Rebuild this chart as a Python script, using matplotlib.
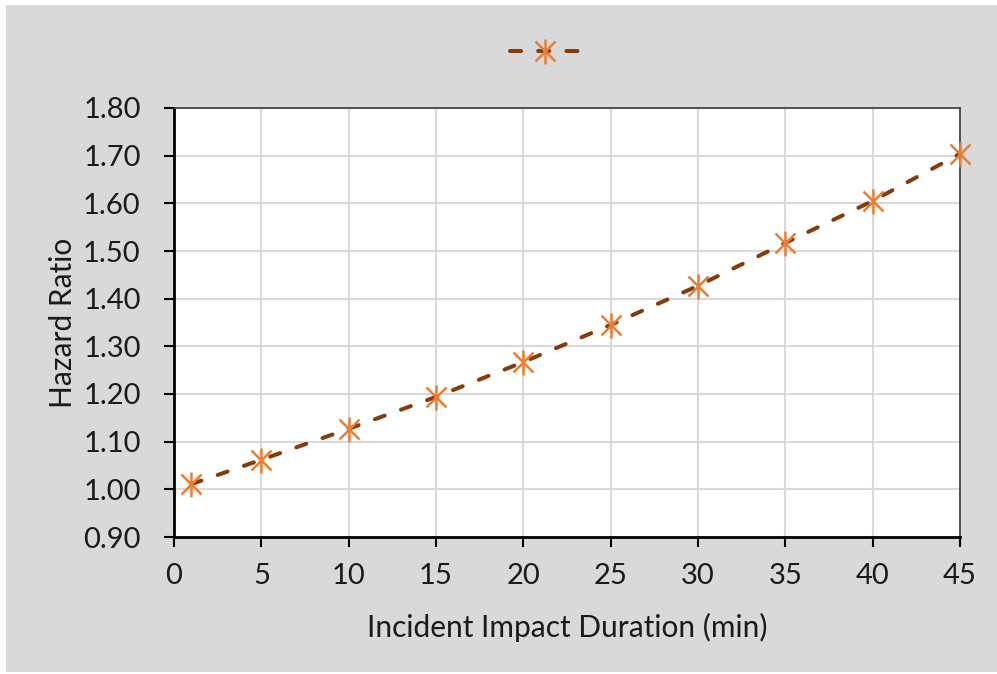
import matplotlib
matplotlib.use("Agg")
import matplotlib.pyplot as plt
from matplotlib.patches import Rectangle
from matplotlib.lines import Line2D

x_vals = [1, 5, 10, 15, 20, 25, 30, 35, 40, 45]
hazard = [1.011, 1.062, 1.127, 1.194, 1.267, 1.345, 1.427, 1.517, 1.605, 1.704]
x_ticks = [0, 5, 10, 15, 20, 25, 30, 35, 40, 45]
y_ticks = [0.90, 1.00, 1.10, 1.20, 1.30, 1.40, 1.50, 1.60, 1.70, 1.80]
x_label = "Incident Impact Duration (min)"
y_label = "Hazard Ratio"

plt.rcParams['font.family'] = ['Lato', 'DejaVu Sans']

W, H = 997, 674
fig = plt.figure(figsize=(W/100, H/100), dpi=100, facecolor='white')
fig.patches.append(Rectangle((6/W, 2/H), 1 - 6/W, 1 - 7/H, transform=fig.transFigure,
                             facecolor='#d9d9d9', edgecolor='none', zorder=-10))

ax = fig.add_axes([174/W, 1 - 537/H, (960-174)/W, (537-108)/H])
ax.set_facecolor('white')

line_col = '#843c0c'
mk_col = '#ed7d31'
dash = (2.6, 4.3)
ax.plot(x_vals, hazard, color=line_col, lw=2.9, dashes=dash, dash_capstyle='round', zorder=3, clip_on=False)
ax.plot(x_vals, hazard, ls='none', marker='x', ms=15, mew=1.8, color=mk_col, zorder=4, clip_on=False)
ax.plot(x_vals, hazard, ls='none', marker='|', ms=18, mew=1.8, color=mk_col, zorder=4, clip_on=False)

ax.set_xlim(0, 45)
ax.set_ylim(0.90, 1.80)
ax.set_xticks(x_ticks)
ax.set_yticks(y_ticks)
ax.set_yticklabels([f"{v:.2f}" for v in y_ticks])
ax.grid(True, color='#d9d9d9', lw=1.5, zorder=0)
ax.set_axisbelow(True)

for s in ['left', 'bottom']:
    ax.spines[s].set_color('black')
    ax.spines[s].set_linewidth(2)
for s in ['top', 'right']:
    ax.spines[s].set_color('#3a3a3a')
    ax.spines[s].set_linewidth(1.2)
ax.tick_params(axis='both', direction='out', length=7, width=1.5, color='black',
               labelsize=21, labelcolor='#1a1a1a')
ax.tick_params(axis='x', pad=12)
ax.tick_params(axis='y', pad=17)

ax.set_xlabel(x_label, fontsize=21.5, color='#1a1a1a', labelpad=17)
ax.set_ylabel(y_label, fontsize=21.5, color='#1a1a1a', labelpad=4)

h = Line2D([], [], color=line_col, lw=2.9, dashes=(2.75, 4.25), dash_capstyle='round',
           marker='x', ms=15, mew=1.8, markerfacecolor=mk_col, markeredgecolor=mk_col)
h2 = Line2D([], [], ls='none', marker='|', ms=18, mew=1.8, color=mk_col)
leg = fig.legend([(h, h2)], [''], loc='center', bbox_to_anchor=(545/W, 1 - 52/H),
                 frameon=False, handlelength=5.1, handletextpad=0, borderpad=0)

fig.savefig('out.png', dpi=100, facecolor='white')
